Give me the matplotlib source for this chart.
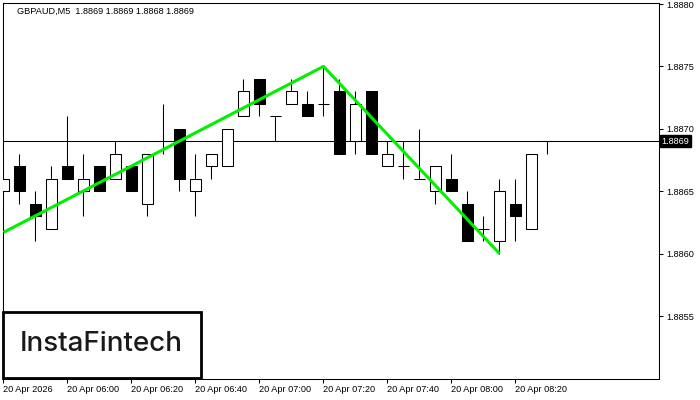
import matplotlib
matplotlib.use("Agg")
import matplotlib.pyplot as plt
from matplotlib.patches import Rectangle
import matplotlib.transforms as mtransforms

# ---- data (M5 candles, 05:40 .. 08:30) ----
opens  = [1.8865, 1.8867, 1.8864, 1.8862, 1.8867, 1.8865, 1.8867, 1.8866, 1.8867, 1.8864,
          1.8869, 1.8870, 1.8865, 1.8867, 1.8867, 1.8871, 1.8874, 1.8871, 1.8872, 1.8872,
          1.8872, 1.8873, 1.8869, 1.8873, 1.8867, 1.8867, 1.8866, 1.8865, 1.8866, 1.8864,
          1.8862, 1.8861, 1.8864, 1.8862, 1.8869]
highs  = [1.8868, 1.8868, 1.8865, 1.8867, 1.8871, 1.8868, 1.8867, 1.8869, 1.8867, 1.8868,
          1.8872, 1.8870, 1.8868, 1.8868, 1.8870, 1.8874, 1.8874, 1.8871, 1.8874, 1.8873,
          1.8875, 1.8874, 1.8873, 1.8873, 1.8869, 1.8869, 1.8870, 1.8867, 1.8868, 1.8865,
          1.8863, 1.8866, 1.8866, 1.8868, 1.8869]
lows   = [1.8864, 1.8864, 1.8861, 1.8862, 1.8866, 1.8863, 1.8865, 1.8866, 1.8865, 1.8863,
          1.8868, 1.8865, 1.8863, 1.8866, 1.8867, 1.8871, 1.8871, 1.8869, 1.8872, 1.8871,
          1.8871, 1.8868, 1.8868, 1.8868, 1.8867, 1.8866, 1.8866, 1.8864, 1.8865, 1.8861,
          1.8861, 1.8860, 1.8861, 1.8862, 1.8868]
closes = [1.8866, 1.8865, 1.8863, 1.8866, 1.8866, 1.8866, 1.8865, 1.8868, 1.8865, 1.8868,
          1.8869, 1.8866, 1.8866, 1.8868, 1.8870, 1.8873, 1.8872, 1.8871, 1.8873, 1.8871,
          1.8872, 1.8868, 1.8872, 1.8868, 1.8868, 1.8867, 1.8866, 1.8867, 1.8865, 1.8861,
          1.8862, 1.8865, 1.8863, 1.8868, 1.8869]

pattern_x = [0, 20, 31]
pattern_y = [1.88617, 1.8875, 1.8860]

current_price = 1.8869
y_ticks = [1.8855, 1.8860, 1.8865, 1.8870, 1.8875, 1.8880]
x_tick_pos = [0, 4, 8, 12, 16, 20, 24, 28, 32]
x_tick_labels = ["20 Apr 2026", "20 Apr 06:00", "20 Apr 06:20", "20 Apr 06:40",
                 "20 Apr 07:00", "20 Apr 07:20", "20 Apr 07:40", "20 Apr 08:00",
                 "20 Apr 08:20"]
title_text = "GBPAUD,M5  1.8869 1.8869 1.8868 1.8869"
logo_text = "InstaFintech"

# ---- figure ----
W, H = 700, 400
fig = plt.figure(figsize=(7, 4), dpi=100)
fig.patch.set_facecolor("white")
ax = fig.add_axes([3 / W, 21 / H, 656 / W, 376.5 / H])
ax.set_facecolor("white")

font = "Liberation Sans"
lw_px = 0.75  # ~1 px

# horizontal current price line
ax.axhline(current_price, color="black", lw=lw_px, zorder=1)

xs = list(range(len(opens)))
body_w = 0.69
for i, o, h, l, c in zip(xs, opens, highs, lows, closes):
    ax.vlines(i, l, h, color="black", lw=lw_px, zorder=2)
    if abs(c - o) < 1e-9:
        ax.hlines(o, i - body_w / 2, i + body_w / 2, color="black", lw=lw_px, zorder=3)
    else:
        bull = c > o
        ax.bar(i, abs(c - o), bottom=min(o, c), width=body_w,
               color="white" if bull else "black", edgecolor="black",
               linewidth=lw_px, zorder=3)

ax.plot(pattern_x, pattern_y, color="#00f000", lw=2.2, zorder=5,
        solid_capstyle="butt")

ax.set_xlim(-0.03, 40.97)
ax.set_ylim(1.8880 - (379 - 4) / 124800, 1.8880 + 1.5 / 124800)

for s in ax.spines.values():
    s.set_color("black")
    s.set_linewidth(lw_px)

ax.yaxis.tick_right()
ax.set_yticks(y_ticks)
ax.set_yticklabels([f"{v:.4f}" for v in y_ticks], fontsize=6.6, family=font)
ax.tick_params(axis="y", direction="out", length=3, width=lw_px, pad=2, colors="black")

ax.set_xticks(x_tick_pos)
ax.set_xticklabels(x_tick_labels, fontsize=6.6, family=font)
ax.tick_params(axis="x", direction="out", length=3, width=lw_px, pad=1.5, colors="black")
for lab in ax.get_xticklabels():
    lab.set_horizontalalignment("left")

# current price tag
trans = mtransforms.blended_transform_factory(ax.transAxes, ax.transData)
ax.text(1.004, current_price, "1.8869", transform=trans, ha="left", va="center",
        fontsize=6.6, family=font, color="white", clip_on=False,
        bbox=dict(facecolor="black", edgecolor="black", pad=1.2))

# title
fig.text(17 / W, 1 - 11 / H, title_text, fontsize=6.6, family=font,
         ha="left", va="center", color="black")

# logo
fig.add_artist(Rectangle((3 / W, (H - 378) / H), 198 / W, 66 / H,
                         transform=fig.transFigure, facecolor="white",
                         edgecolor="black", lw=2, zorder=10))
fig.text(101 / W, (H - 344) / H, logo_text, fontsize=20, family="Inter",
         fontweight="medium", ha="center", va="center", color="#1a1a1a", zorder=11)

fig.savefig("out.png", dpi=100)
